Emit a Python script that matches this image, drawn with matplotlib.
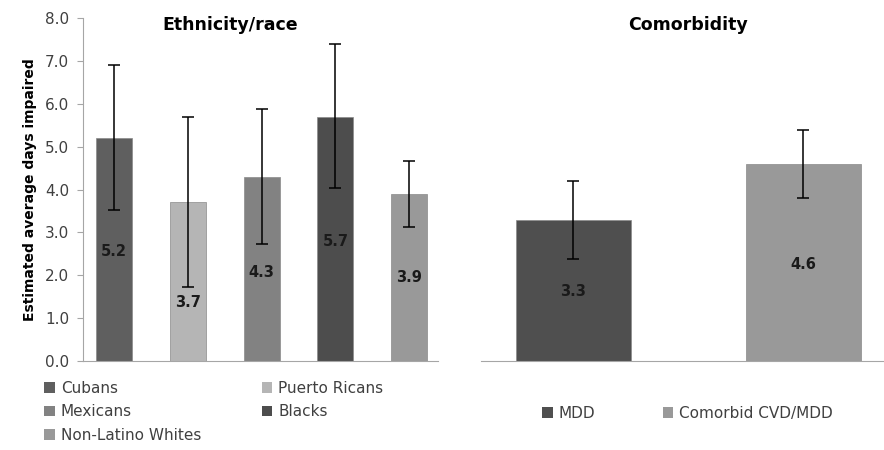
import matplotlib
matplotlib.use('Agg')
import matplotlib.pyplot as plt
from matplotlib.patches import Patch

# ethnicity / race panel
eth_groups = ['Cubans', 'Puerto Ricans', 'Mexicans', 'Blacks', 'Non-Latino Whites']
eth_values = [5.2, 3.7, 4.3, 5.7, 3.9]
eth_low = [3.52, 1.72, 2.73, 4.03, 3.13]
eth_high = [6.9, 5.70, 5.87, 7.4, 4.67]
eth_colors = ['#5f5f5f', '#b5b5b5', '#828282', '#4d4d4d', '#999999']
# where the value label sits (fraction of bar height)
eth_label_pos = [0.49, 0.37, 0.48, 0.49, 0.5]

# comorbidity panel
com_groups = ['MDD', 'Comorbid CVD/MDD']
com_values = [3.3, 4.6]
com_low = [2.38, 3.81]
com_high = [4.19, 5.38]
com_colors = ['#4f4f4f', '#999999']

yticks = [0, 1, 2, 3, 4, 5, 6, 7, 8]

plt.rcParams['font.family'] = 'DejaVu Sans'
fig = plt.figure(figsize=(8.84, 4.5), dpi=100)

axis_grey = '#a6a6a6'
text_col = '#404040'

# ---- left panel
ax1 = fig.add_axes([83/884, 89/450, 355/884, 343/450])
x1 = range(len(eth_groups))
err1 = [[v - lo for v, lo in zip(eth_values, eth_low)],
        [hi - v for v, hi in zip(eth_values, eth_high)]]
ax1.bar(x1, eth_values, width=0.49, color=eth_colors, edgecolor='#8a8a8a', linewidth=0.5,
        yerr=err1, capsize=4.5, error_kw=dict(elinewidth=1.1, capthick=1.1, ecolor='black'))
for i, v in enumerate(eth_values):
    ax1.text(i, v * eth_label_pos[i], f'{v:.1f}', ha='center', va='center',
             fontsize=10.5, fontweight='bold', color='#1a1a1a')
ax1.set_xlim(-0.42, 4.39)
ax1.set_ylim(0, 8)
ax1.set_yticks(yticks)
ax1.set_yticklabels([f'{t:.1f}' for t in yticks], fontsize=11, color=text_col)
ax1.set_xticks([])
ax1.tick_params(axis='y', length=4, color=axis_grey, pad=6)
for s in ['top', 'right']:
    ax1.spines[s].set_visible(False)
for s in ['left', 'bottom']:
    ax1.spines[s].set_color(axis_grey)
ax1.set_ylabel('Estimated average days impaired', fontsize=10, fontweight='bold', labelpad=6)
ax1.text(0.414, 0.98, 'Ethnicity/race', transform=ax1.transAxes, ha='center', va='center',
         fontsize=12.5, fontweight='bold')

# ---- right panel
ax2 = fig.add_axes([481/884, 89/450, 403/884, 343/450])
x2 = range(len(com_groups))
err2 = [[v - lo for v, lo in zip(com_values, com_low)],
        [hi - v for v, hi in zip(com_values, com_high)]]
ax2.bar(x2, com_values, width=0.5, color=com_colors, edgecolor='#8a8a8a', linewidth=0.5,
        yerr=err2, capsize=4.5, error_kw=dict(elinewidth=1.1, capthick=1.1, ecolor='black'))
for i, v in enumerate(com_values):
    ax2.text(i, v * 0.49, f'{v:.1f}', ha='center', va='center',
             fontsize=10.5, fontweight='bold', color='#1a1a1a')
ax2.set_xlim(-0.4, 1.35)
ax2.set_ylim(0, 8)
ax2.set_xticks([])
ax2.set_yticks([])
for s in ['top', 'right', 'left']:
    ax2.spines[s].set_visible(False)
ax2.spines['bottom'].set_color(axis_grey)
ax2.text(0.514, 0.98, 'Comorbidity', transform=ax2.transAxes, ha='center', va='center',
         fontsize=12.5, fontweight='bold')

# ---- legends
order = [0, 2, 4, 1, 3]
h1 = [Patch(facecolor=eth_colors[i], label=eth_groups[i]) for i in order]
fig.legend(handles=h1, ncol=2, loc='upper left', bbox_to_anchor=(44/884, 1 - 381/450),
           frameon=False, fontsize=11, handlelength=0.7, handleheight=0.7, handletextpad=0.4,
           columnspacing=3.95, labelspacing=0.55, borderpad=0, borderaxespad=0,
           labelcolor=text_col)
h2 = [Patch(facecolor=com_colors[i], label=com_groups[i]) for i in range(2)]
fig.legend(handles=h2, ncol=2, loc='upper left', bbox_to_anchor=(542/884, 1 - 406/450),
           frameon=False, fontsize=11, handlelength=0.7, handleheight=0.7, handletextpad=0.4,
           columnspacing=4.4, borderpad=0, borderaxespad=0, labelcolor=text_col)

fig.savefig('out.png', dpi=100, facecolor='white')
